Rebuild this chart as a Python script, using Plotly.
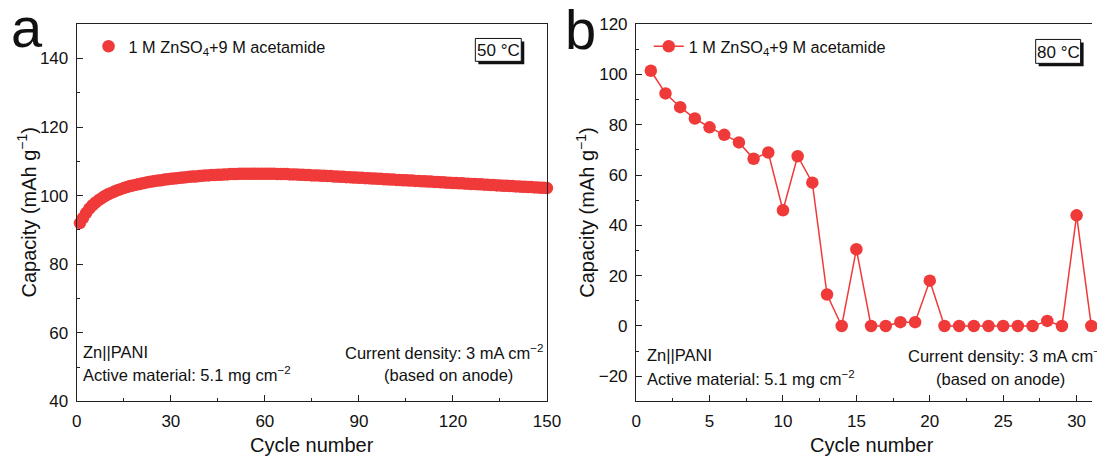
import plotly.graph_objects as go

# Figure pixels; the photo of the page covers a little more than 1097x459,
# so the figure is sized to fill what is photographed.
W, H = 1106, 467
RED = "#F03A3A"
FONT = "Arial, Liberation Sans, sans-serif"
INK = "#111"

# ---- data ----
cycles_a = list(range(1, 151))
capacity_a = [
    92.0, 93.5, 95.0, 96.2, 97.2, 98.0, 98.7, 99.3, 99.9, 100.4,
    100.8, 101.2, 101.6, 101.9, 102.2, 102.5, 102.8, 103.0, 103.2, 103.4,
    103.6, 103.8, 104.0, 104.1, 104.3, 104.4, 104.5, 104.7, 104.8, 104.9,
    105.0, 105.1, 105.2, 105.3, 105.4, 105.5, 105.6, 105.6, 105.7, 105.8,
    105.9, 105.9, 106.0, 106.0, 106.1, 106.1, 106.2, 106.2, 106.3, 106.3,
    106.3, 106.4, 106.4, 106.4, 106.4, 106.4, 106.4, 106.4, 106.4, 106.4,
    106.4, 106.4, 106.4, 106.3, 106.3, 106.3, 106.3, 106.2, 106.2, 106.2,
    106.1, 106.1, 106.0, 106.0, 105.9, 105.9, 105.9, 105.8, 105.8, 105.7,
    105.7, 105.6, 105.6, 105.5, 105.5, 105.4, 105.4, 105.3, 105.3, 105.2,
    105.2, 105.1, 105.1, 105.0, 105.0, 104.9, 104.9, 104.8, 104.8, 104.7,
    104.7, 104.6, 104.6, 104.5, 104.5, 104.4, 104.4, 104.3, 104.3, 104.2,
    104.2, 104.1, 104.1, 104.0, 104.0, 103.9, 103.9, 103.8, 103.8, 103.7,
    103.7, 103.6, 103.6, 103.5, 103.5, 103.4, 103.4, 103.3, 103.3, 103.2,
    103.2, 103.1, 103.1, 103.0, 103.0, 102.9, 102.9, 102.8, 102.8, 102.7,
    102.7, 102.6, 102.6, 102.5, 102.5, 102.4, 102.4, 102.3, 102.3, 102.2,
]
cycles_b = list(range(1, 32))
capacity_b = [
    101.5, 92.5, 87.0, 82.5, 79.0, 76.0, 73.0, 66.5, 69.0, 46.0,
    67.5, 57.0, 12.5, 0.0, 30.5, 0.0, 0.0, 1.5, 1.5, 18.0,
    0.0, 0.0, 0.0, 0.0, 0.0, 0.0, 0.0, 2.0, 0.0, 44.0, 0.0,
]
series_name = "1 M ZnSO<sub>4</sub>+9 M acetamide"
y_title = "Capacity (mAh g<sup>\u22121</sup>)"
x_title = "Cycle number"

# photo position = S * figure pixel + O
SX, OX = 0.984, 4.1
SY, OY = 0.964, 7.4


def fx(X):
    return (X - OX) / SX


def fy(Y):
    return (Y - OY) / SY


def px(X):
    return fx(X) / W


def py(Y):
    return 1 - fy(Y) / H


fig = go.Figure()
fig.add_trace(go.Scatter(
    x=cycles_a, y=capacity_a, mode="markers", name=series_name,
    marker=dict(color=RED, size=12.5, line=dict(width=0)),
    xaxis="x", yaxis="y", legend="legend", showlegend=True, cliponaxis=False,
))
fig.add_trace(go.Scatter(
    x=cycles_b, y=capacity_b, mode="lines+markers", name=series_name,
    marker=dict(color=RED, size=12.5, line=dict(width=0)),
    line=dict(color=RED, width=1.5),
    xaxis="x2", yaxis="y2", legend="legend2", showlegend=True, cliponaxis=False,
))

axis_common = dict(
    showgrid=False, zeroline=False, showline=True, linecolor="#222",
    linewidth=1.3, ticks="inside", ticklen=6, tickwidth=1.3, tickcolor="#222",
    tickfont=dict(family=FONT, size=17, color=INK), ticklabelstandoff=4,
)
minor_kw = dict(ticks="inside", ticklen=3, tickcolor="#222", tickwidth=1.2)
ydom = [py(401.7), py(22.7)]
b_unit = 14.7 / SX
b_max = (W - fx(636)) / b_unit
fig.update_layout(
    width=W, height=H, margin=dict(l=0, r=0, t=0, b=0),
    paper_bgcolor="white", plot_bgcolor="white", showlegend=True,
    font=dict(family=FONT, color=INK),
    xaxis=dict(domain=[px(76), px(546.7)], range=[0, 150], dtick=30, tick0=0,
               mirror=True, anchor="y", minor=dict(dtick=15, **minor_kw),
               **axis_common),
    yaxis=dict(domain=ydom, range=[40, 150], dtick=20, tick0=40, mirror=True,
               anchor="x", minor=dict(dtick=10, **minor_kw),
               **axis_common),
    xaxis2=dict(domain=[px(636), 1.0], range=[0, b_max], dtick=5, tick0=0,
                mirror=True, anchor="y2", minor=dict(dtick=2.5, **minor_kw),
                **axis_common),
    yaxis2=dict(domain=ydom, range=[-30, 120], dtick=20, tick0=0, mirror=False,
                anchor="x2", minor=dict(dtick=10, **minor_kw),
                **axis_common),
    legend=dict(x=85 / W, y=1 - 21 / H, xanchor="left", yanchor="top",
                bgcolor="rgba(0,0,0,0)", font=dict(family=FONT, size=16.3, color=INK)),
    legend2=dict(x=655 / W, y=1 - 21 / H, xanchor="left", yanchor="top",
                 bgcolor="rgba(0,0,0,0)", font=dict(family=FONT, size=16.3, color=INK)),
)

ann = []


def text(X, Y, s, size=16.5, xanchor="left", angle=0, color=INK):
    ann.append(dict(x=px(X), y=py(Y), xref="paper", yref="paper", text=s,
                    showarrow=False, xanchor=xanchor, yanchor="middle",
                    textangle=angle, font=dict(family=FONT, size=size, color=color)))


# panel labels
text(8, 26, "a", size=56)
text(563, 28, "b", size=56)
# axis titles
text(311, 446, x_title, size=20, xanchor="center")
text(872, 446, x_title, size=20, xanchor="center")
text(26, 212, y_title, size=20, xanchor="center", angle=-90)
text(585, 212, y_title, size=20, xanchor="center", angle=-90)
# notes panel a
text(80, 352, "Zn||PANI")
text(80, 374, "Active material: 5.1 mg cm<sup>\u22122</sup>")
text(545, 352, "Current density: 3 mA cm<sup>\u22122</sup>", xanchor="right")
text(448, 375, "(based on anode)", xanchor="center")
# notes panel b
text(645, 355, "Zn||PANI")
text(645, 378, "Active material: 5.1 mg cm<sup>\u22122</sup>")
text(906, 355, "Current density: 3 mA cm<sup>\u22122</sup>")
text(1001, 379, "(based on anode)", xanchor="center")

shapes = []


def tbox(x0, y0, x1, y1, label):
    shapes.append(dict(type="rect", xref="paper", yref="paper",
                       x0=px(x0 + 3), x1=px(x1 + 3), y0=py(y1 + 3), y1=py(y0 + 3),
                       fillcolor="#111", line=dict(width=0)))
    shapes.append(dict(type="rect", xref="paper", yref="paper",
                       x0=px(x0), x1=px(x1), y0=py(y1), y1=py(y0),
                       fillcolor="white", line=dict(color="#111", width=1)))
    text((x0 + x1) / 2, (y0 + y1) / 2 + 1, label, size=17, xanchor="center")


tbox(475, 37, 521, 60, "50 \u00b0C")
tbox(1036, 38, 1081, 62, "80 \u00b0C")

fig.update_layout(annotations=ann, shapes=shapes)
fig.write_html("out.html")
